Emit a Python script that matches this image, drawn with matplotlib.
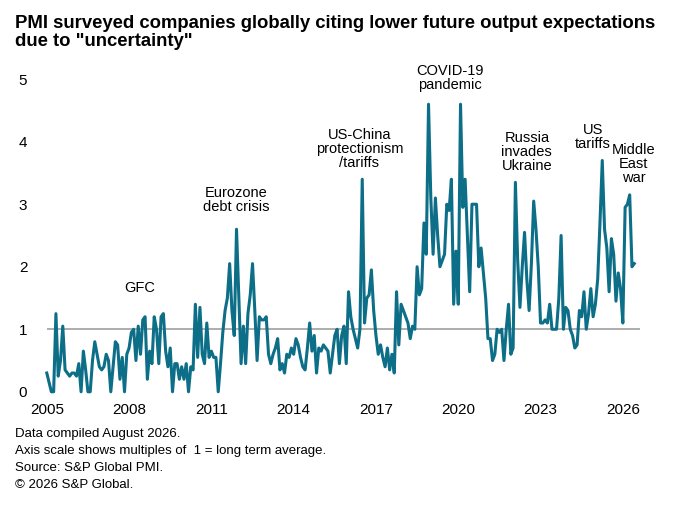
import numpy as np
import matplotlib
matplotlib.use("Agg")
import matplotlib.pyplot as plt

plt.rcParams['font.family'] = ['Liberation Sans', 'DejaVu Sans']

# monthly values, Jan 2005 onward
y2005 = [0.3, 0.15, 0, 0, 1.25, 0.25, 0.5, 1.05, 0.35, 0.3, 0.25, 0.3]
y2006 = [0.3, 0.25, 0.45, 0, 0.65, 0.35, 0, 0, 0.5, 0.8, 0.6, 0.4]
y2007 = [0.35, 0.4, 0.6, 0.5, 0, 0.4, 0.8, 0.75, 0.2, 0.55, 0, 0.6]
y2008 = [0.7, 0.95, 1.0, 0.5, 1.05, 0.6, 1.15, 1.2, 0.2, 0.65, 0.45, 1.2]
y2009 = [1.0, 0.45, 1.2, 1.25, 0.65, 0.4, 0.7, 0, 0.45, 0.45, 0.2, 0.4]
y2010 = [0.2, 0.45, 0, 0.4, 0.35, 1.4, 0.55, 1.35, 0.6, 0.45, 1.1, 0.55]
y2011 = [0.65, 0.55, 0.55, 0, 0.45, 0.95, 1.3, 1.5, 2.05, 1.3, 0.9, 2.6]
y2012 = [1.5, 0.45, 1.05, 0.45, 1.25, 1.55, 2.05, 1.3, 0.5, 1.2, 1.15, 1.15]
y2013 = [1.2, 0.6, 0.45, 0.6, 0.7, 0.85, 0.35, 0.45, 0.3, 0.6, 0.55, 0.7]
y2014 = [0.6, 0.85, 0.75, 0.55, 0.4, 0.35, 0.7, 1.1, 0.65, 0.9, 0.3, 0.7]
y2015 = [0.65, 0.75, 0.7, 0.65, 0.3, 0.6, 0.9, 1.0, 0.45, 0.9, 1.05, 0.45]
y2016 = [1.6, 1.2, 1.0, 0.85, 0.7, 1.0, 3.4, 1.1, 1.5, 1.55, 1.95, 1.3]
y2017 = [0.9, 0.6, 0.75, 0.55, 0.4, 0.7, 0.35, 0.6, 0.3, 1.6, 0.75, 1.4]
y2018 = [1.3, 1.2, 1.1, 0.85, 1.05, 1.0, 2.0, 1.55, 1.65, 2.7, 2.2, 4.6]
y2019 = [3.1, 2.2, 3.1, 2.5, 2.0, 2.1, 2.2, 3.0, 2.9, 3.4, 1.4, 2.25]
y2020 = [1.4, 4.6, 2.95, 3.4, 2.5, 1.6, 3.0, 3.0, 3.0, 2.0, 2.3, 1.9]
y2021 = [1.5, 0.85, 0.85, 0.5, 0.6, 1.0, 0.95, 1.0, 0.5, 1.0, 1.4, 0.6]
y2022 = [0.7, 3.35, 2.1, 1.35, 2.0, 2.55, 1.8, 1.3, 2.05, 3.05, 2.6, 2.0]
y2023 = [1.1, 1.1, 1.15, 1.1, 1.4, 1.0, 1.0, 1.0, 1.5, 2.5, 1.0, 1.35]
y2024 = [1.3, 1.0, 0.9, 0.7, 0.75, 1.3, 1.2, 1.6, 1.0, 1.25, 1.65, 1.2]
y2025 = [1.4, 1.8, 2.7, 3.7, 2.6, 2.3, 1.6, 2.45, 2.2, 1.45, 1.9, 1.65]
y2026 = [1.1, 2.95, 3.0, 3.15, 2.0, 2.05]

values = (y2005 + y2006 + y2007 + y2008 + y2009 + y2010 + y2011 + y2012 + y2013
          + y2014 + y2015 + y2016 + y2017 + y2018 + y2019 + y2020 + y2021
          + y2022 + y2023 + y2024 + y2025 + y2026)
dates = 2005 + np.arange(len(values)) / 12

xticks = [2005, 2008, 2011, 2014, 2017, 2020, 2023, 2026]
events = [
    (2008.4, 1.55, "GFC"),
    (2011.9, 2.85, "Eurozone\ndebt crisis"),
    (2016.4, 3.55, "US-China\nprotectionism\n/tariffs"),
    (2019.7, 4.8, "COVID-19\npandemic"),
    (2022.5, 3.5, "Russia\ninvades\nUkraine"),
    (2024.9, 3.85, "US\ntariffs"),
    (2026.4, 3.3, "Middle\nEast\nwar"),
]

fig = plt.figure(figsize=(6.88, 5.28), dpi=100)
ax = fig.add_axes([0.068, 0.258, 0.862, 0.592])
ax.axhline(1, color='#a0a0a0', lw=1.2, zorder=1)
ax.plot(dates, values, color='#0d6e88', lw=2.2, zorder=2, clip_on=False)
ax.set_xlim(2005, 2026.62)
ax.set_ylim(0, 5)
ax.set_xticks(xticks)
ax.set_yticks(range(6))
for s in ax.spines.values():
    s.set_visible(False)
ax.tick_params(length=0, labelsize=11, colors='black')
ax.tick_params(axis='x', pad=8)
ax.tick_params(axis='y', pad=14)
for x, y, t in events:
    ax.text(x, y, t, ha='center', va='bottom', fontsize=10.5, linespacing=1.0)

fig.text(0.022, 0.972, 'PMI surveyed companies globally citing lower future output expectations\ndue to "uncertainty"',
         ha='left', va='top', fontsize=13.3, fontweight='bold', linespacing=1.1)
fig.text(0.022, 0.19, 'Data compiled August 2026.\nAxis scale shows multiples of  1 = long term average.\nSource: S&P Global PMI.\n\u00a9 2026 S&P Global.',
         ha='left', va='top', fontsize=9.5, linespacing=1.55)

fig.savefig('out.png', dpi=100)
